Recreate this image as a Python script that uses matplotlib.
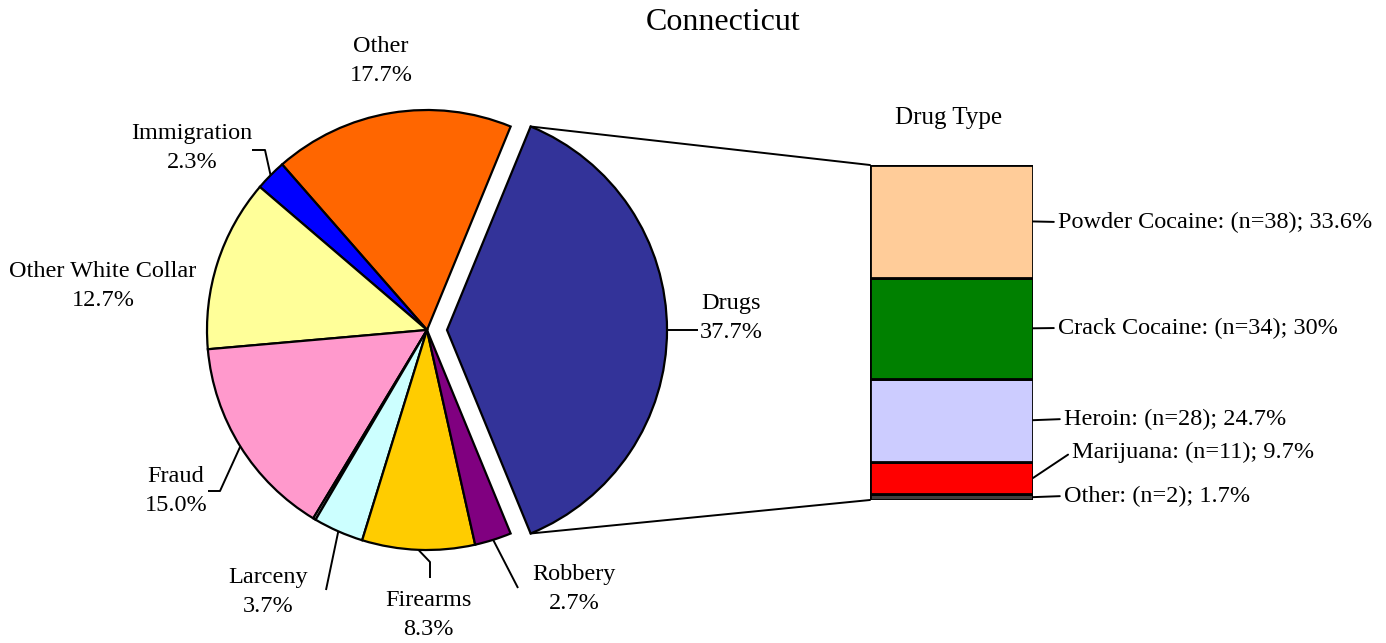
import numpy as np
import matplotlib
matplotlib.use("Agg")
import matplotlib.pyplot as plt
from matplotlib.patches import ConnectionPatch

plt.rcParams['font.family'] = ['Liberation Serif', 'DejaVu Serif']

# ---- data ----
pie_labels = ["Drugs", "Other", "Immigration", "Other White Collar", "Fraud", "", "Larceny", "Firearms", "Robbery"]
pie_values = [37.7, 17.7, 2.3, 12.7, 15.0, 0.2, 3.7, 8.3, 2.7]
pie_pct_text = ["37.7%", "17.7%", "2.3%", "12.7%", "15.0%", "", "3.7%", "8.3%", "2.7%"]
pie_colors = ["#333399", "#FF6600", "#0000FF", "#FFFF99", "#FF99CC", "#C0C0C0", "#CCFFFF", "#FFCC00", "#800080"]

drug_labels = ["Other: (n=2); 1.7%", "Marijuana: (n=11); 9.7%", "Heroin: (n=28); 24.7%",
               "Crack Cocaine: (n=34); 30%", "Powder Cocaine: (n=38); 33.6%"]
drug_values = [1.7, 9.7, 24.7, 30.0, 33.6]
drug_colors = ["#404040", "#FF0000", "#CCCCFF", "#008000", "#FFCC99"]

W, H = 1386, 643
fig = plt.figure(figsize=(W / 100, H / 100), dpi=100)
ax = fig.add_axes([0, 0, 1, 1])

def Y(ypx):
    return H - ypx

cx, cy, R = 427, Y(330), 220
total = sum(pie_values)
start = -pie_values[0] / total * 360 / 2
explode = [20] + [0] * (len(pie_values) - 1)
wedges, _ = ax.pie(pie_values, colors=pie_colors, startangle=start, counterclock=True,
                   center=(cx, cy), radius=R, explode=explode,
                   wedgeprops=dict(edgecolor='black', linewidth=1.6), frame=True)
ax.set_xlim(0, W)
ax.set_ylim(0, H)
ax.set_aspect('equal')
ax.axis('off')

def edge_pt(w, frac=0.5, r=1.0):
    th = np.deg2rad(w.theta1 + (w.theta2 - w.theta1) * frac)
    c = w.center
    return (c[0] + w.r * r * np.cos(th), c[1] + w.r * r * np.sin(th))

fs = 17.5
def lab(i, x, y, leader=None):
    ax.text(x, Y(y), pie_labels[i] + "\n" + pie_pct_text[i], ha='center', va='center',
            fontsize=fs, linespacing=1.5)
    if leader is not None:
        pts = [edge_pt(wedges[i])] + [(px, Y(py)) for px, py in leader]
        xs, ys = zip(*pts)
        ax.plot(xs, ys, color='black', lw=1.4, solid_capstyle='butt')

lab(0, 731, 318, [(698, 330)])
lab(1, 381, 61)
lab(2, 192, 148, [(265, 150), (252, 150)])
lab(3, 103, 286)
lab(4, 176, 491, [(220, 491), (208, 491)])
lab(6, 268, 592, [(326, 590)])
lab(7, 428, 615, [(430, 562), (430, 578)])
lab(8, 574, 589, [(518, 588)])

ax.text(723, Y(22), "Connecticut", ha='center', va='center', fontsize=23)
ax.text(949, Y(118), "Drug Type", ha='center', va='center', fontsize=18)

# ---- bar of drug types ----
bx0, bx1, by0, by1 = 870, 1033, 500, 165
ax2 = fig.add_axes([bx0 / W, Y(by0) / H, (bx1 - bx0) / W, (by0 - by1) / H])
btot = sum(drug_values)
bottom = 0
mids = []
for v, c in zip(drug_values, drug_colors):
    ax2.bar(0, v, bottom=bottom, width=1.0, color=c, edgecolor='black', linewidth=2.0)
    mids.append(bottom + v / 2)
    bottom += v
ax2.set_xlim(-0.5, 0.5)
ax2.set_ylim(0, btot)
ax2.axis('off')

text_pos = [(1064, 496), (1072, 452), (1064, 419), (1058, 328), (1058, 222)]
for lbl, m, (tx, ty) in zip(drug_labels, mids, text_pos):
    ax2.annotate(lbl, xy=(0.5, m), xycoords='data', xytext=(tx, Y(ty)), textcoords=ax.transData,
                 ha='left', va='center', fontsize=fs, annotation_clip=False,
                 arrowprops=dict(arrowstyle='-', shrinkA=1, shrinkB=0, lw=1.4,
                                 relpos=(0, 0.5), color='black'))

# connector lines from exploded Drugs wedge to bar
w0 = wedges[0]
top = edge_pt(w0, 1.0)
bot = edge_pt(w0, 0.0)
for p, q in [(top, (0, 1)), (bot, (0, 0))]:
    cp = ConnectionPatch(xyA=p, coordsA=ax.transData, xyB=q, coordsB=ax2.transAxes,
                         color='black', lw=1.4)
    fig.add_artist(cp)

fig.savefig("out.png", dpi=100)
